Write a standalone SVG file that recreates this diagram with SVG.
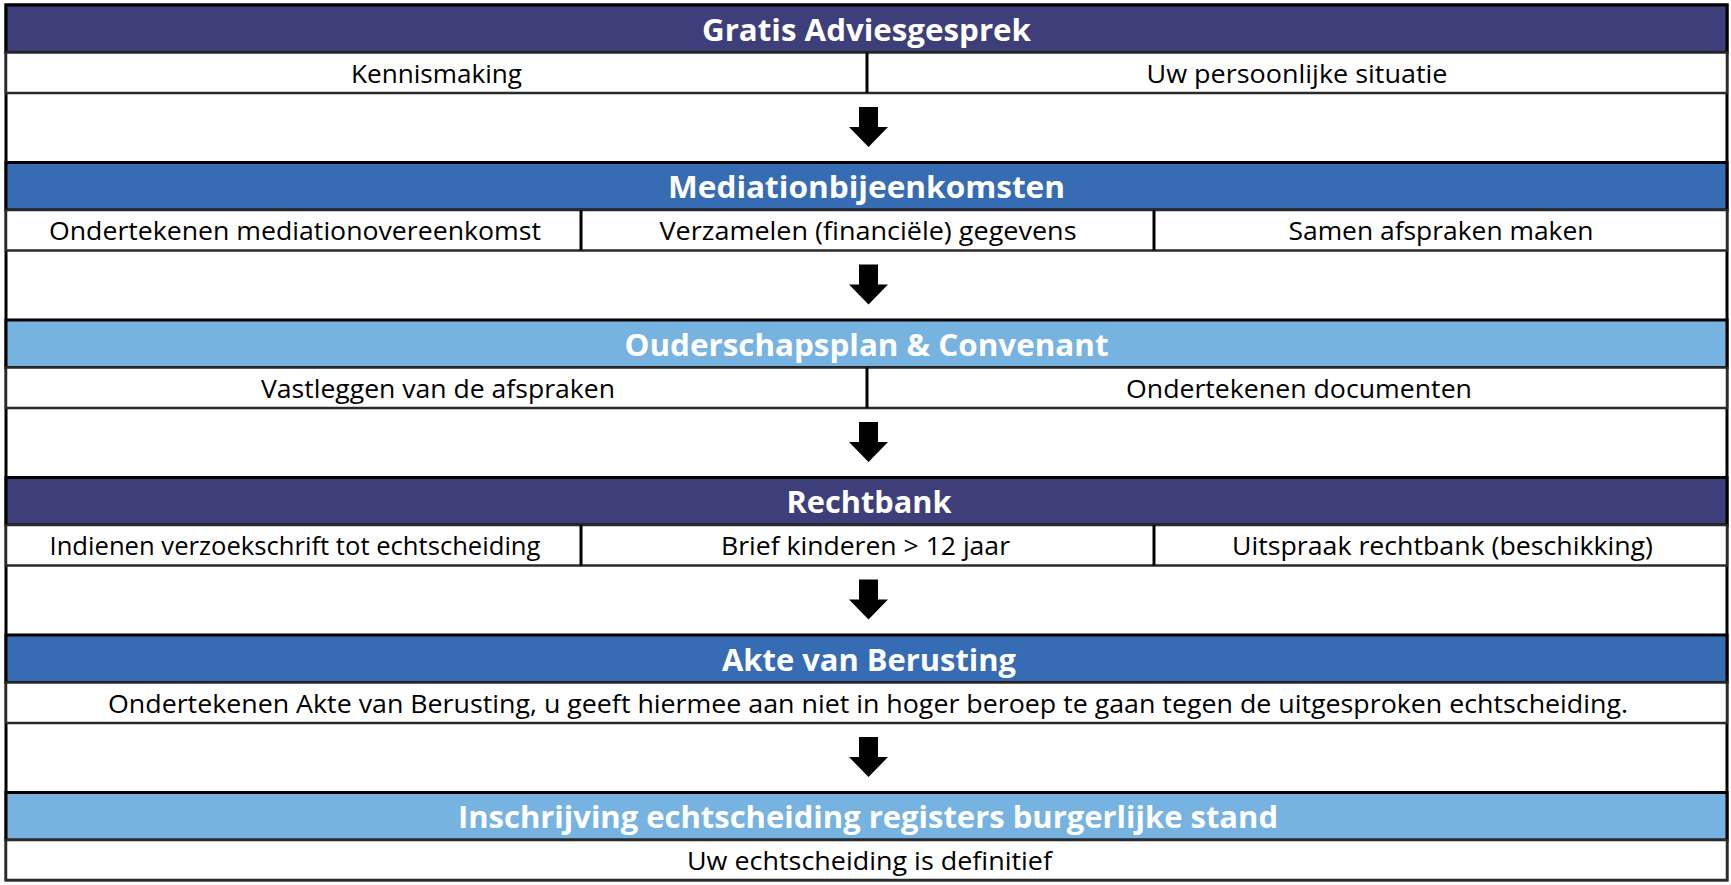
<svg xmlns="http://www.w3.org/2000/svg" width="1731" height="885" viewBox="0 0 1731 885">
<style>
.hd{stroke:#000;stroke-width:3}
.navy{fill:#3E3E7A}
.blue{fill:#366CB4}
.light{fill:#77B3E0}
.sub{fill:#fff;stroke:#2a2a2a;stroke-width:2.5}
.div{stroke:#000;stroke-width:3}
.ht{font-family:"Open Sans","Liberation Sans",sans-serif;font-weight:bold;font-size:31px;fill:#fff;text-anchor:middle}
.bt{font-family:"Open Sans","Liberation Sans",sans-serif;font-size:26px;fill:#000;text-anchor:middle}
.arr{fill:#000}
</style>
<rect x="0" y="0" width="1731" height="885" fill="#fff"/>
<rect x="6" y="5" width="1721" height="875" fill="#fff" stroke="#000" stroke-width="3"/>

<g id="step1">
<rect class="hd navy" x="6" y="5" width="1721" height="47.5"/>
<text class="ht" x="866.5" y="40.5" textLength="329" lengthAdjust="spacingAndGlyphs">Gratis Adviesgesprek</text>
<rect class="sub" x="6" y="52.5" width="1721" height="40.5"/>
<line class="div" x1="867" y1="52.5" x2="867" y2="93"/>
<text class="bt" x="436.5" y="82.5" textLength="171" lengthAdjust="spacingAndGlyphs">Kennismaking</text>
<text class="bt" x="1297" y="82.5" textLength="301" lengthAdjust="spacingAndGlyphs">Uw persoonlijke situatie</text>
</g>

<g id="step2">
<rect class="hd blue" x="6" y="162.5" width="1721" height="47.5"/>
<text class="ht" x="866.5" y="198" textLength="397" lengthAdjust="spacingAndGlyphs">Mediationbijeenkomsten</text>
<rect class="sub" x="6" y="210" width="1721" height="40.5"/>
<line class="div" x1="581" y1="210" x2="581" y2="250.5"/>
<line class="div" x1="1154" y1="210" x2="1154" y2="250.5"/>
<text class="bt" x="295" y="240" textLength="492" lengthAdjust="spacingAndGlyphs">Ondertekenen mediationovereenkomst</text>
<text class="bt" x="868" y="240" textLength="417" lengthAdjust="spacingAndGlyphs">Verzamelen (financiële) gegevens</text>
<text class="bt" x="1441" y="240" textLength="305" lengthAdjust="spacingAndGlyphs">Samen afspraken maken</text>
</g>

<g id="step3">
<rect class="hd light" x="6" y="320" width="1721" height="47.5"/>
<text class="ht" x="866.5" y="355.5" textLength="484" lengthAdjust="spacingAndGlyphs">Ouderschapsplan &amp; Convenant</text>
<rect class="sub" x="6" y="367.5" width="1721" height="40.5"/>
<line class="div" x1="867" y1="367.5" x2="867" y2="408"/>
<text class="bt" x="438" y="397.5" textLength="354" lengthAdjust="spacingAndGlyphs">Vastleggen van de afspraken</text>
<text class="bt" x="1299" y="397.5" textLength="346" lengthAdjust="spacingAndGlyphs">Ondertekenen documenten</text>
</g>

<g id="step4">
<rect class="hd navy" x="6" y="477.5" width="1721" height="47.5"/>
<text class="ht" x="869" y="513" textLength="165" lengthAdjust="spacingAndGlyphs">Rechtbank</text>
<rect class="sub" x="6" y="525" width="1721" height="40.5"/>
<line class="div" x1="581" y1="525" x2="581" y2="565.5"/>
<line class="div" x1="1154" y1="525" x2="1154" y2="565.5"/>
<text class="bt" x="295" y="555" textLength="491" lengthAdjust="spacingAndGlyphs">Indienen verzoekschrift tot echtscheiding</text>
<text class="bt" x="865.5" y="555" textLength="289" lengthAdjust="spacingAndGlyphs">Brief kinderen &gt; 12 jaar</text>
<text class="bt" x="1442.5" y="555" textLength="421" lengthAdjust="spacingAndGlyphs">Uitspraak rechtbank (beschikking)</text>
</g>

<g id="step5">
<rect class="hd blue" x="6" y="635" width="1721" height="47.5"/>
<text class="ht" x="869" y="670.5" textLength="294" lengthAdjust="spacingAndGlyphs">Akte van Berusting</text>
<rect class="sub" x="6" y="682.5" width="1721" height="40.5"/>
<text class="bt" x="868" y="712.5" textLength="1520" lengthAdjust="spacingAndGlyphs">Ondertekenen Akte van Berusting, u geeft hiermee aan niet in hoger beroep te gaan tegen de uitgesproken echtscheiding.</text>
</g>

<g id="step6">
<rect class="hd light" x="6" y="792.5" width="1721" height="47.5"/>
<text class="ht" x="868" y="828" textLength="820" lengthAdjust="spacingAndGlyphs">Inschrijving echtscheiding registers burgerlijke stand</text>
<rect class="sub" x="6" y="840" width="1721" height="40"/>
<text class="bt" x="869.5" y="870" textLength="365" lengthAdjust="spacingAndGlyphs">Uw echtscheiding is definitief</text>
</g>

<g id="connectors">
<polygon class="arr" points="859,107 878,107 878,127 888,127 868.5,147 849,127 859,127"/>
<polygon class="arr" points="859,264.5 878,264.5 878,284.5 888,284.5 868.5,304.5 849,284.5 859,284.5"/>
<polygon class="arr" points="859,422 878,422 878,442 888,442 868.5,462 849,442 859,442"/>
<polygon class="arr" points="859,579.5 878,579.5 878,599.5 888,599.5 868.5,619.5 849,599.5 859,599.5"/>
<polygon class="arr" points="859,737 878,737 878,757 888,757 868.5,777 849,757 859,757"/>
</g>
</svg>
